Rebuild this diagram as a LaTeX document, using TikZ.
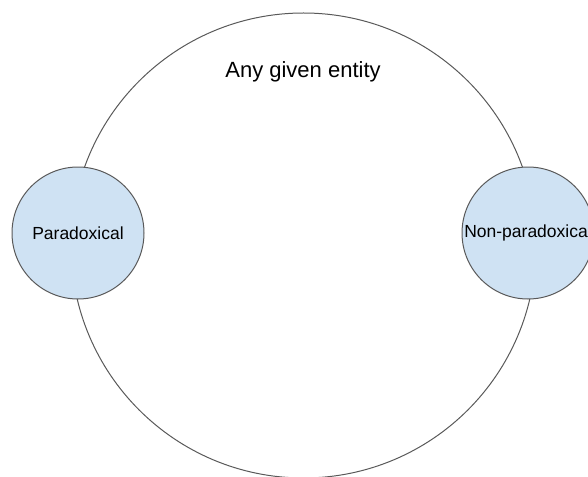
\documentclass[tikz,border=0pt]{standalone}
\usepackage{fontspec}
\setmainfont{Liberation Sans}
\definecolor{linegray}{HTML}{595959}
\definecolor{setblue}{HTML}{CFE2F3}
\begin{document}
\begin{tikzpicture}[x=1pt,y=-1pt,
    set/.style={circle,draw=linegray,line width=1pt,inner sep=0pt},
    subset/.style={set,fill=setblue,minimum size=132pt,font=\fontsize{17.5}{20}\selectfont}]
  \def\EntityDiameter{465pt}
  \useasboundingbox (0,0) rectangle (588,476);
  % the whole and its two parts
  \node[set,minimum size=\EntityDiameter] (entity) at (303.5,245.5) {};
  \node[font=\fontsize{22}{26}\selectfont] (entitylabel) at (303,72) {Any given entity};
  \node[subset] (paradox) at (78,233) {Paradoxical};
  \node[subset] (nonparadox) at (528,233) {Non-paradoxical};
\end{tikzpicture}
\end{document}
